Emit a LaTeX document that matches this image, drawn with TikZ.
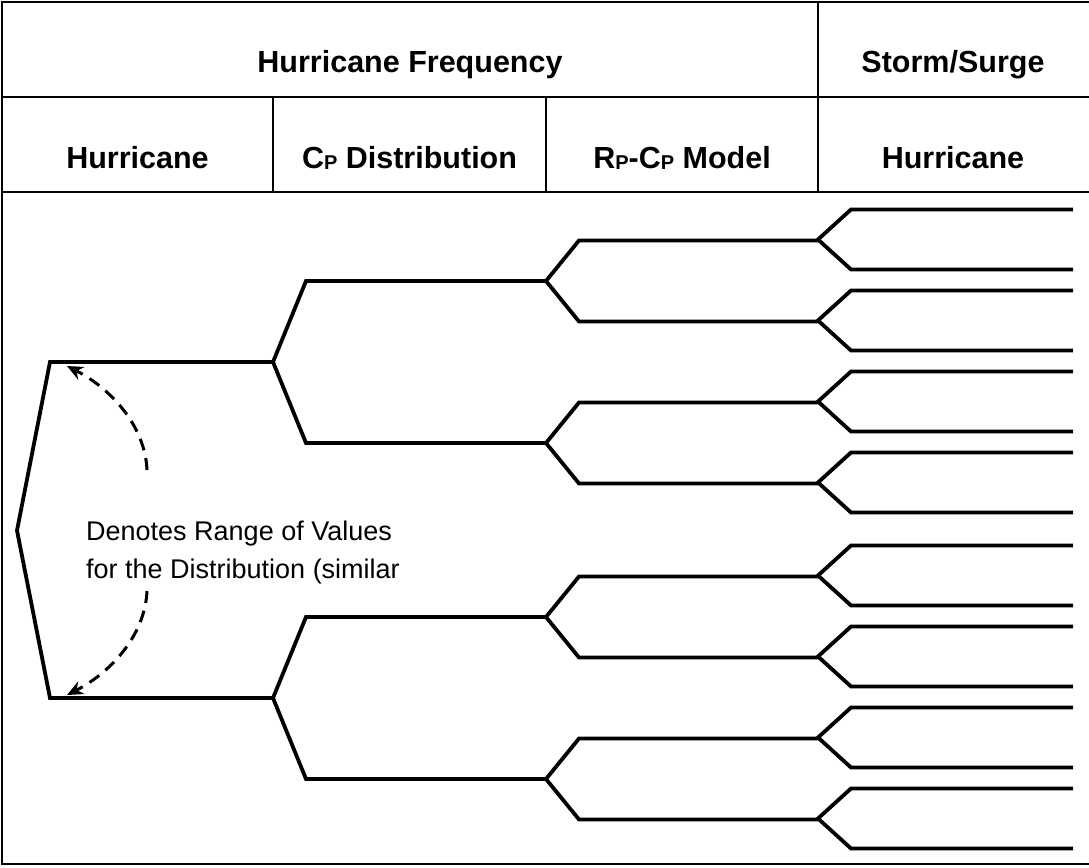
\documentclass[tikz,border=0pt]{standalone}
\usepackage{fontspec}
\setmainfont{Liberation Sans}
\usepackage{tikz}
\usetikzlibrary{arrows.meta}
\newcommand{\lowidx}[1]{\raisebox{-1.5pt}{\fontsize{20}{20}\selectfont #1}}

\begin{document}
\begin{tikzpicture}[
x=1pt,y=-1pt,
hdr/.style={font=\fontsize{30.5}{36}\selectfont\bfseries,anchor=base,inner sep=0pt},
note/.style={font=\fontsize{27}{38}\selectfont,align=left,anchor=base west,inner sep=0pt},
grid/.style={line width=2.2pt},
branch/.style={line width=3.8pt,line join=miter},
spanarrow/.style={line width=3pt,dash pattern=on 12pt off 8pt,-{Stealth[length=16pt,width=14pt]}}
]
\useasboundingbox (0,0) rectangle (1089,867);
% table frame and header cells
\draw[grid] (1089,2) -- (2,2) -- (2,864) -- (1089,864);
\draw[grid] (2,97) -- (1089,97);
\draw[grid] (2,192) -- (1089,192);
\draw[grid] (818,2) -- (818,192);
\draw[grid] (273,97) -- (273,192);
\draw[grid] (546,97) -- (546,192);
\node[hdr] (freq) at (410,72) {Hurricane Frequency};
\node[hdr] (surge) at (953,72) {Storm/Surge};
\node[hdr] (hur) at (137.5,168) {Hurricane};
\node[hdr] (cpd) at (409.5,168) {C\lowidx{P} Distribution};
\node[hdr] (rpcp) at (682,168) {R\lowidx{P}-C\lowidx{P} Model};
\node[hdr] (hur2) at (953,168) {Hurricane};
% event tree
\coordinate (root) at (17,530.5);
\coordinate (a1) at (50,362);
\coordinate (a2) at (50,698);
\draw[branch] (273,362) -- (a1) -- (root) -- (a2) -- (273,698);
\foreach \x/\ex/\d/\ys in {
  273/546/81/{362,698},
  546/818/40.5/{281,443,617,779},
  818/1073/30/{239.5,320.5,401.5,482.5,575.5,656.5,737.5,818.5}}{
  \foreach \y in \ys {
    \draw[branch] (\ex,\y-\d) -- (\x+33,\y-\d) -- (\x,\y) -- (\x+33,\y+\d) -- (\ex,\y+\d);
  }
}
% range of values
\node[note] (vals) at (86,578) {Denotes Range of Values\\for the Distribution (similar};
\coordinate (up) at (147,470);
\coordinate (dn) at (147,591);
\coordinate (tipup) at (67,366);
\coordinate (tipdn) at (67,695);
\draw[spanarrow] (up) .. controls (145,425) and (110,388) .. (tipup);
\draw[spanarrow] (dn) .. controls (145,636) and (110,673) .. (tipdn);
\end{tikzpicture}
\end{document}
